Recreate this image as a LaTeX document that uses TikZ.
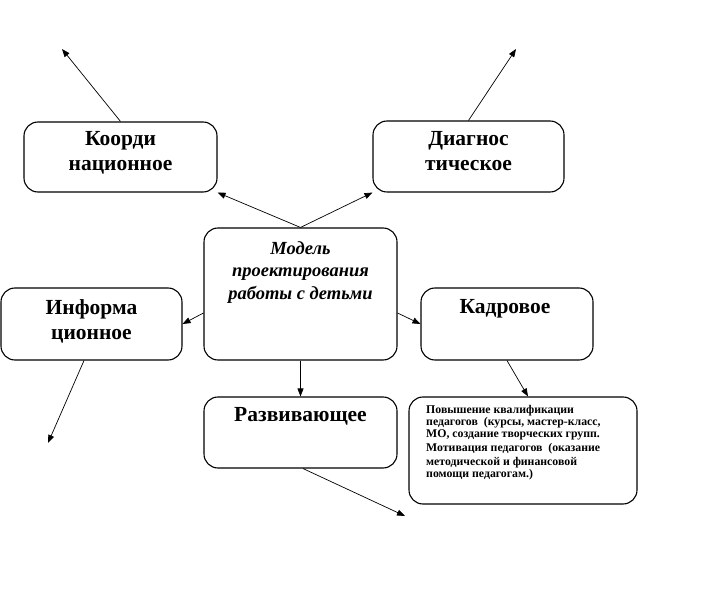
\documentclass[tikz,border=0pt]{standalone}
\usepackage{fontspec}
\setmainfont{Liberation Serif}
\usetikzlibrary{arrows.meta}
\tikzset{
  boxshape/.style={draw, line width=1.1pt, rounded corners=14pt, inner sep=0pt},
  bigtext/.style={font=\bfseries\fontsize{21.5}{25}\selectfont, align=center, inner sep=0pt, anchor=north},
  arr/.style={line width=0.7pt, -{Triangle[length=8pt,width=6pt]}}
}
\begin{document}
\begin{tikzpicture}[x=1pt,y=-1pt]
\useasboundingbox (0,0) rectangle (709,601);
% boxes
\node[boxshape, minimum width=193pt, minimum height=70pt] (koord) at (120.5,157) {};
\node[boxshape, minimum width=191pt, minimum height=71pt] (diag) at (468.5,156.5) {};
\node[boxshape, minimum width=193pt, minimum height=132pt] (model) at (300.5,294) {};
\node[boxshape, minimum width=181pt, minimum height=72pt] (info) at (91.5,324) {};
\node[boxshape, minimum width=172pt, minimum height=72pt] (kadr) at (507,324) {};
\node[boxshape, minimum width=193pt, minimum height=71pt] (razv) at (300.5,432.5) {};
\node[boxshape, minimum width=228pt, minimum height=107pt] (pov) at (523,450.5) {};
% texts
\node[bigtext] (koordT) at (120.5,131) {Коорди\\национное};
\node[bigtext] (diagT) at (468.5,131) {Диагнос\\тическое};
\node[bigtext] (infoT) at (91.5,299) {Информа\\ционное};
\node[bigtext] (kadrT) at (505,299) {Кадровое};
\node[bigtext] (razvT) at (300.5,407) {Развивающее};
\node[font=\bfseries\itshape\fontsize{18.5}{22.5}\selectfont, align=center, inner sep=0pt, anchor=north] (modelT) at (300.5,241) {Модель\\проектирования\\работы с детьми};
\node[font=\bfseries\fontsize{11.8}{12}\selectfont, align=left, inner sep=0pt, anchor=north west] (povT) at (426,405)
  {Повышение квалификации\\педагогов\ \ (курсы, мастер-класс,\\МО, создание творческих групп.\\[2pt]Мотивация педагогов\ \ (оказание\\[2pt]методической и финансовой\\помощи педагогам.)};
% free ends
\coordinate (tipK) at (62,49);
\coordinate (tipD) at (516,49);
\coordinate (tipI) at (48,443);
\coordinate (tipR) at (405,516);
% connectors
\draw[arr] (koord.north) -- (tipK);
\draw[arr] (diag.north) -- (tipD);
\draw[arr] (model.north) -- (koord.south east);
\draw[arr] (model.north) -- (diag.south west);
\draw[arr] ([yshift=-19pt]model.west) -- (info.east);
\draw[arr] ([yshift=-19pt]model.east) -- (kadr.west);
\draw[arr] (model.south) -- (razv.north);
\draw[arr] ([xshift=-7.5pt]info.south) -- (tipI);
\draw[arr] (kadr.south) -- ([xshift=5pt]pov.north);
\draw[arr] ([xshift=2.5pt]razv.south) -- (tipR);
\end{tikzpicture}
\end{document}
